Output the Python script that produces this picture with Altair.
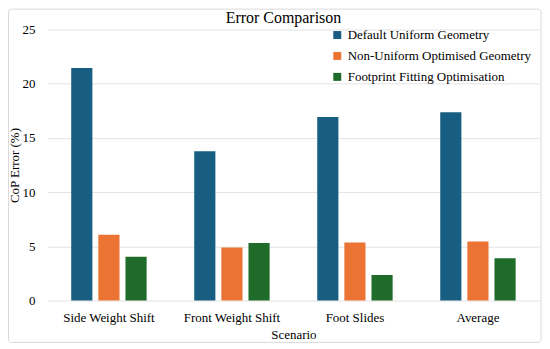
import altair as alt
import pandas as pd

scenarios = ["Side Weight Shift", "Front Weight Shift", "Foot Slides", "Average"]
series = ["Default Uniform Geometry", "Non-Uniform Optimised Geometry", "Footprint Fitting Optimisation"]
default_uniform = [21.45, 13.77, 16.93, 17.38]
non_uniform = [6.07, 4.90, 5.36, 5.44]
footprint = [4.05, 5.30, 2.36, 3.90]
colors = ["#175E82", "#EB7434", "#1E6B2A"]
y_ticks = [0, 5, 10, 15, 20, 25]

rows = []
for s, vals in zip(series, [default_uniform, non_uniform, footprint]):
    for sc, v in zip(scenarios, vals):
        rows.append({"Scenario": sc, "Series": s, "Error": v})
df = pd.DataFrame(rows)

font = "Liberation Serif"

bars = alt.Chart(df).mark_bar().encode(
    x=alt.X("Scenario:N", sort=scenarios,
            scale=alt.Scale(paddingInner=0.387, paddingOuter=0.19),
            axis=alt.Axis(title="Scenario", labelAngle=0, ticks=False, domain=False,
                          labelPadding=11, titlePadding=4, labelFontSize=13,
                          titleFontSize=13, labelFont=font, titleFont=font,
                          titleFontWeight="normal", labelColor="#000", titleColor="#000")),
    xOffset=alt.XOffset("Series:N", sort=series, scale=alt.Scale(paddingInner=0.22)),
    y=alt.Y("Error:Q", scale=alt.Scale(domain=[0, 25]),
            axis=alt.Axis(title="CoP Error (%)", values=y_ticks, ticks=False, domain=False,
                          labelPadding=13, titlePadding=0, labelFontSize=13,
                          titleFontSize=13, labelFont=font, titleFont=font,
                          titleFontWeight="normal", labelColor="#000", titleColor="#000",
                          gridColor="#e3e3e3", gridWidth=1)),
    color=alt.Color("Series:N", sort=series,
                    scale=alt.Scale(domain=series, range=colors),
                    legend=alt.Legend(orient="none", legendX=284, legendY=-1, title=None,
                                      symbolType="square", symbolSize=64, symbolStrokeWidth=0,
                                      labelFont=font, labelFontSize=13, labelColor="#000",
                                      labelOffset=4, rowPadding=7, labelLimit=300)),
)

border = alt.Chart(alt.Data(values=[{}])).mark_rect(
    filled=False, stroke="#d9d9d9", strokeWidth=1, cornerRadius=3, clip=False
).encode(
    x=alt.value(-39.5), x2=alt.value(495), y=alt.value(-20.5), y2=alt.value(314)
)

chart = alt.layer(border, bars).properties(
    width=493, height=272,
    title=alt.TitleParams("Error Comparison", font=font, fontSize=16, fontWeight="normal",
                          color="#000", offset=5, dx=-10, dy=22),
    autosize="none",
    padding={"left": 40, "top": 21, "right": 3, "bottom": 43},
).configure_view(strokeWidth=0)

chart.save("out.html", embed_options={"renderer": "svg", "actions": False})
